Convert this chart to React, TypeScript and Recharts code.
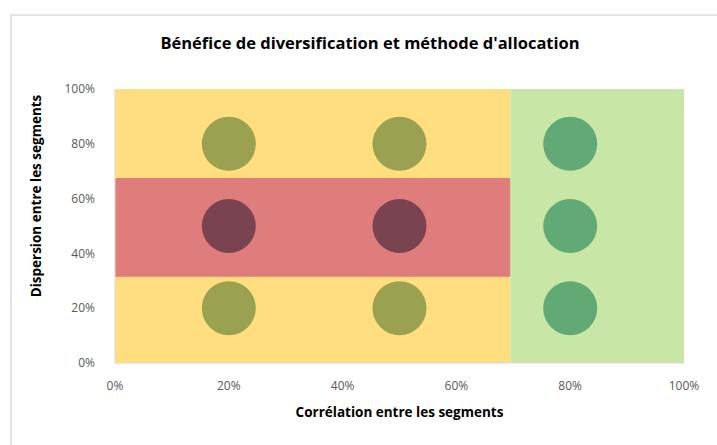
import React from 'react';
import { ScatterChart, Scatter, XAxis, YAxis, ReferenceArea } from 'recharts';

const ticks = [0, 20, 40, 60, 80, 100];

// zones (in %)
const diversifiedLimit = 69.5;
const redBand = [31.5, 67.5];

// points by zone
const yellowPoints = [
  { x: 20, y: 20 },
  { x: 50, y: 20 },
  { x: 20, y: 80 },
  { x: 50, y: 80 },
];
const redPoints = [
  { x: 20, y: 50 },
  { x: 50, y: 50 },
];
const greenPoints = [
  { x: 80, y: 20 },
  { x: 80, y: 50 },
  { x: 80, y: 80 },
];

const font = '"Open Sans", sans-serif';

const Dot = (props: any) => {
  const { cx, cy, fill } = props;
  return <circle cx={cx} cy={cy} r={27} fill={fill} />;
};

const pct = (v: number) => `${v}%`;

const App = () => {
  return (
    <div
      style={{
        position: 'absolute',
        left: 0,
        top: 0,
        width: 717,
        height: 445,
        background: '#fff',
        fontFamily: font,
      }}
    >
      <div
        style={{
          position: 'absolute',
          left: 10,
          top: 14,
          width: 707,
          height: 431,
          borderTop: '2px solid #e3e3e3',
          borderLeft: '2px solid #e3e3e3',
        }}
      />
      <div
        style={{
          position: 'absolute',
          left: 0,
          top: 31,
          width: 740,
          textAlign: 'center',
          fontSize: 16.5,
          fontWeight: 700,
          color: '#000',
        }}
      >
        Bénéfice de diversification et méthode d'allocation
      </div>
      <div
        style={{
          position: 'absolute',
          left: 115,
          top: 403,
          width: 569,
          textAlign: 'center',
          fontSize: 13.5,
          fontWeight: 700,
          color: '#000',
        }}
      >
        Corrélation entre les segments
      </div>
      <div
        style={{
          position: 'absolute',
          left: 36,
          top: 196,
          transform: 'translate(-50%, -50%) rotate(-90deg)',
          whiteSpace: 'nowrap',
          fontSize: 13.5,
          fontWeight: 700,
          color: '#000',
        }}
      >
        Dispersion entre les segments
      </div>
      <ScatterChart
        width={717}
        height={445}
        margin={{ top: 89, right: 33, bottom: 52, left: 55 }}
        style={{ position: 'absolute', left: 0, top: 0 }}
      >
        <XAxis
          type="number"
          dataKey="x"
          domain={[0, 100]}
          ticks={ticks}
          tickFormatter={pct}
          height={30}
          axisLine={{ stroke: '#d9d9d9' }}
          tickLine={false}
          tick={{ fill: '#595959', fontSize: 12, fontFamily: font }}
          tickMargin={12}
        />
        <YAxis
          type="number"
          dataKey="y"
          domain={[0, 100]}
          ticks={ticks}
          tickFormatter={pct}
          width={60}
          axisLine={{ stroke: '#d9d9d9' }}
          tickLine={false}
          tick={{ fill: '#595959', fontSize: 12, fontFamily: font }}
          tickMargin={14}
        />
        <ReferenceArea x1={0} x2={diversifiedLimit} y1={0} y2={100} fill="#ffde80" fillOpacity={1} stroke="none" />
        <ReferenceArea x1={0} x2={diversifiedLimit} y1={redBand[0]} y2={redBand[1]} fill="#df7c7c" fillOpacity={1} stroke="none" />
        <ReferenceArea x1={diversifiedLimit} x2={100} y1={0} y2={100} fill="#c8e6a6" fillOpacity={1} stroke="none" />
        <Scatter data={yellowPoints} fill="#9aa150" shape={<Dot />} isAnimationActive={false} />
        <Scatter data={redPoints} fill="#7a4350" shape={<Dot />} isAnimationActive={false} />
        <Scatter data={greenPoints} fill="#61aa75" shape={<Dot />} isAnimationActive={false} />
      </ScatterChart>
    </div>
  );
};

export default App;
